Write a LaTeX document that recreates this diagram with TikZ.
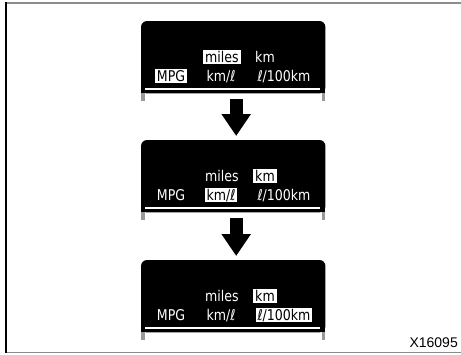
\documentclass[tikz,border=0pt]{standalone}
\usepackage{fontspec}
\setmainfont{DejaVu Sans}
\newfontfamily\dispfont[FakeStretch=0.85]{DejaVu Sans}
\newfontfamily\codefont{Liberation Sans}
\usetikzlibrary{arrows.meta}
\begin{document}
\begin{tikzpicture}[x=1pt,y=-1pt,
  frame/.style={line width=1.5pt},
  dispbox/.style={inner sep=0pt, minimum width=184pt, minimum height=72pt, anchor=north west},
  screen/.style={fill=black, rounded corners=6pt},
  leg/.style={fill=black!40},
  disp/.style={text=white, inner xsep=2pt, inner ysep=1.5pt, text height=10.8pt, text depth=0pt, font=\dispfont\fontsize{14.8pt}{14.8pt}\selectfont},
  hl/.style={disp, fill=white, text=black},
  bar/.style={draw=white, line width=2pt},
  blockarrow/.style={line width=13pt, -{Triangle[length=22pt,width=28pt]}}]
\useasboundingbox (0,0) rectangle (461,354);
% outer frame
\draw[frame, black!45] (6,3) -- (461,3);
\draw[frame, black!45] (6,352.5) -- (461,352.5);
\draw[frame, black] (6,2.25) -- (6,353.25);
% display frames
\node[dispbox] (d1) at (141,21) {};
\node[dispbox] (d2) at (141,140) {};
\node[dispbox] (d3) at (141,260) {};
\foreach \d in {d1,d2,d3}{
  \fill[leg] ([yshift=2pt]\d.south west) rectangle ++(3.5,10);
  \fill[leg] ([yshift=2pt]\d.south east) rectangle ++(-3.5,10);
  \fill[screen] (\d.north west) rectangle (\d.south east);
  \fill[black] (\d.west) rectangle (\d.south east);
  \draw[bar] ([xshift=4pt,yshift=4pt]\d.south west) -- ([xshift=-5pt,yshift=4pt]\d.south east);
}
% display 1
\node[hl]   (mi1) at (222,57) {miles};
\node[disp] (km1) at (265,57) {km};
\node[hl]   (mp1) at (171,76) {MPG};
\node[disp] (kl1) at (221,76) {km/ℓ};
\node[disp] (lh1) at (284,76) {ℓ/100km};
% display 2
\node[disp] (mi2) at (222,176) {miles};
\node[hl]   (km2) at (265,176) {km};
\node[disp] (mp2) at (171,195) {MPG};
\node[hl]   (kl2) at (221,195) {km/ℓ};
\node[disp] (lh2) at (284,195) {ℓ/100km};
% display 3
\node[disp] (mi3) at (222,296) {miles};
\node[hl]   (km3) at (265,296) {km};
\node[disp] (mp3) at (171,315) {MPG};
\node[disp] (kl3) at (221,315) {km/ℓ};
\node[hl]   (lh3) at (284,315) {ℓ/100km};
% arrows
\draw[blockarrow] ([xshift=3pt,yshift=-6pt]d1.south) -- ([xshift=3pt,yshift=4pt]d2.north);
\draw[blockarrow] ([xshift=3pt,yshift=-6pt]d2.south) -- ([xshift=3pt,yshift=4pt]d3.north);
% code
\node[anchor=base east, inner sep=0pt, font=\codefont\fontsize{14pt}{14pt}\selectfont] (code) at (458,347) {X16095};
\end{tikzpicture}
\end{document}
